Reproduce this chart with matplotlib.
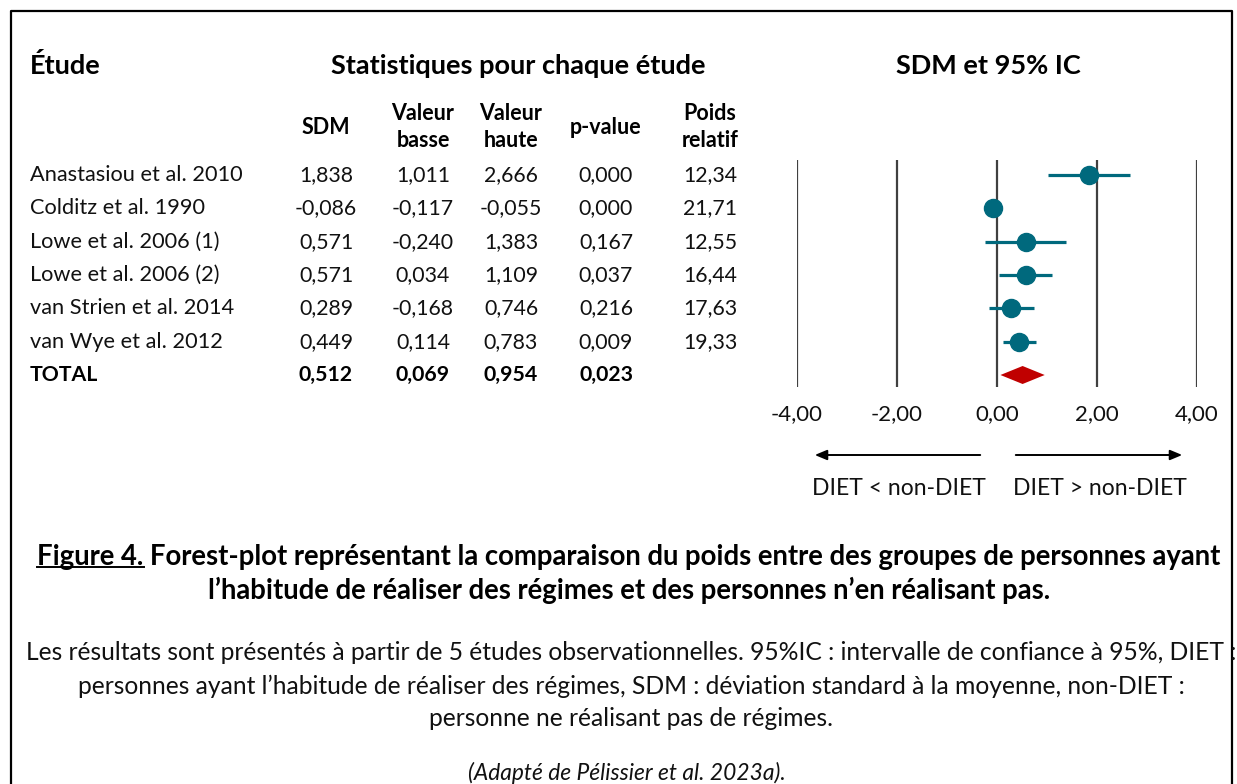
import matplotlib
matplotlib.use("Agg")
import matplotlib.pyplot as plt
import matplotlib.transforms as mtrans
from matplotlib.lines import Line2D
from matplotlib.patches import FancyArrowPatch

plt.rcParams['font.family'] = ['Lato', 'DejaVu Sans']

studies = ["Anastasiou et al. 2010", "Colditz et al. 1990", "Lowe et al. 2006 (1)",
           "Lowe et al. 2006 (2)", "van Strien et al. 2014", "van Wye et al. 2012"]
sdm = [1.838, -0.086, 0.571, 0.571, 0.289, 0.449]
low = [1.011, -0.117, -0.240, 0.034, -0.168, 0.114]
high = [2.666, -0.055, 1.383, 1.109, 0.746, 0.783]
pval = [0.000, 0.000, 0.167, 0.037, 0.216, 0.009]
weight = [12.34, 21.71, 12.55, 16.44, 17.63, 19.33]
total_label = "TOTAL"
total_sdm, total_low, total_high, total_p = 0.512, 0.069, 0.954, 0.023
xticks = [-4, -2, 0, 2, 4]
col_headers = ["SDM", "Valeur\nbasse", "Valeur\nhaute", "p-value", "Poids\nrelatif"]

W, H = 1237, 784
fig = plt.figure(figsize=(W / 100, H / 100), dpi=100)

def fx(x):
    return x / W

def fy(y):
    return 1 - y / H

def fmt(v, d=3):
    return f"{v:.{d}f}".replace(".", ",")

# border (left, top, right)
fig.add_artist(Line2D([fx(11), fx(11), fx(1232), fx(1232)],
                      [fy(800), fy(11), fy(11), fy(800)],
                      color="black", lw=1.6, transform=fig.transFigure))

# forest axes: x -4..4 maps to px 797..1197; rows from y=160 to 387
ax = fig.add_axes([fx(797), fy(387), fx(1197) - fx(797), (387 - 160) / H])
n = len(studies)
ax.set_xlim(-4, 4)
ax.set_ylim(n + 0.36, -0.45)
for s in ax.spines.values():
    s.set_visible(False)
ax.set_yticks([])
ax.set_xticks(xticks)
ax.set_xticklabels([fmt(t, 2) for t in xticks], fontsize=16, color="#111111")
ax.tick_params(axis="x", length=0, pad=12)
for t in xticks:
    ax.axvline(t, color="#404040", lw=1.6, zorder=1)

rows = list(range(n))
teal = "#00697D"
for i in rows:
    ax.plot([low[i], high[i]], [i, i], color=teal, lw=2.3, zorder=2, solid_capstyle="butt")
    ax.plot(sdm[i], i, "o", color=teal, ms=13, zorder=3)
ax.fill([total_low, total_sdm, total_high, total_sdm],
        [n, n - 0.27, n, n + 0.27], color="#C00000", zorder=3, lw=0)

# table text using blended transform (x in figure px, y in row coords)
tr = mtrans.blended_transform_factory(fig.transFigure, ax.transData)
fs = 15.3
col_x = [326, 423, 511, 606, 710]
for i in rows:
    fig.text(fx(30), i, studies[i], transform=tr, fontsize=15.7, va="center", ha="left", color="#111111")
    vals = [fmt(sdm[i]), fmt(low[i]), fmt(high[i]), fmt(pval[i]), fmt(weight[i], 2)]
    for cx, v in zip(col_x, vals):
        fig.text(fx(cx), i, v, transform=tr, fontsize=fs, va="center", ha="center", color="#111111")
fig.text(fx(30), n, total_label, transform=tr, fontsize=fs, va="center", ha="left", fontweight="bold")
for cx, v in zip(col_x, [fmt(total_sdm), fmt(total_low), fmt(total_high), fmt(total_p)]):
    fig.text(fx(cx), n, v, transform=tr, fontsize=fs, va="center", ha="center", fontweight="bold")

# headers
fig.text(fx(30), fy(66), "Étude", fontsize=19.5, fontweight="bold", va="center", ha="left")
fig.text(fx(518), fy(66), "Statistiques pour chaque étude", fontsize=19.5, fontweight="bold", va="center", ha="center")
fig.text(fx(988), fy(66), "SDM et 95% IC", fontsize=19.5, fontweight="bold", va="center", ha="center")
for cx, h in zip(col_x, col_headers):
    fig.text(fx(cx), fy(127), h, fontsize=15.5, fontweight="bold", va="center", ha="center",
             linespacing=1.35)

# direction arrows
for start, end in [((983, 455), (812, 455)), ((1013, 455), (1185, 455))]:
    fig.add_artist(FancyArrowPatch((fx(start[0]), fy(start[1])), (fx(end[0]), fy(end[1])),
                   transform=fig.transFigure, arrowstyle="-|>,head_length=0.6,head_width=0.25",
                   mutation_scale=12, lw=1.4, color="black"))
fig.text(fx(899), fy(489), "DIET < non-DIET", fontsize=16.5, ha="center", va="center", color="#111111")
fig.text(fx(1100), fy(489), "DIET > non-DIET", fontsize=16.5, ha="center", va="center", color="#111111")

# figure title
line1 = "Figure 4. Forest-plot représentant la comparaison du poids entre des groupes de personnes ayant"
line2 = "l’habitude de réaliser des régimes et des personnes n’en réalisant pas."
tfs = 19.8
t1 = fig.text(fx(629), fy(557), line1, fontsize=tfs, fontweight="bold", ha="center", va="center")
fig.text(fx(629), fy(590), line2, fontsize=tfs, fontweight="bold", ha="center", va="center")

cap = ["Les résultats sont présentés à partir de 5 études observationnelles. 95%IC : intervalle de confiance à 95%, DIET :",
       "personnes ayant l’habitude de réaliser des régimes, SDM : déviation standard à la moyenne, non-DIET :",
       "personne ne réalisant pas de régimes."]
cfs = 17.7
for k, c in enumerate(cap):
    fig.text(fx(631), fy(653 + 33 * k), c, fontsize=cfs, ha="center", va="center", color="#111111")
fig.text(fx(627), fy(773), "(Adapté de Pélissier et al. 2023a).", fontsize=16.4, style="italic",
         ha="center", va="center", color="#111111")

# underline "Figure 4."
fig.canvas.draw()
r = fig.canvas.get_renderer()
bb = t1.get_window_extent(r)
tmp = fig.text(0, 0, "Figure 4.", fontsize=tfs, fontweight="bold")
wb = tmp.get_window_extent(r)
tmp.remove()
fig.add_artist(Line2D([bb.x0 / W, (bb.x0 + wb.width) / W], [bb.y0 / H + 0.004, bb.y0 / H + 0.004],
                      color="black", lw=1.4, transform=fig.transFigure))

fig.savefig("out.png", dpi=100)
